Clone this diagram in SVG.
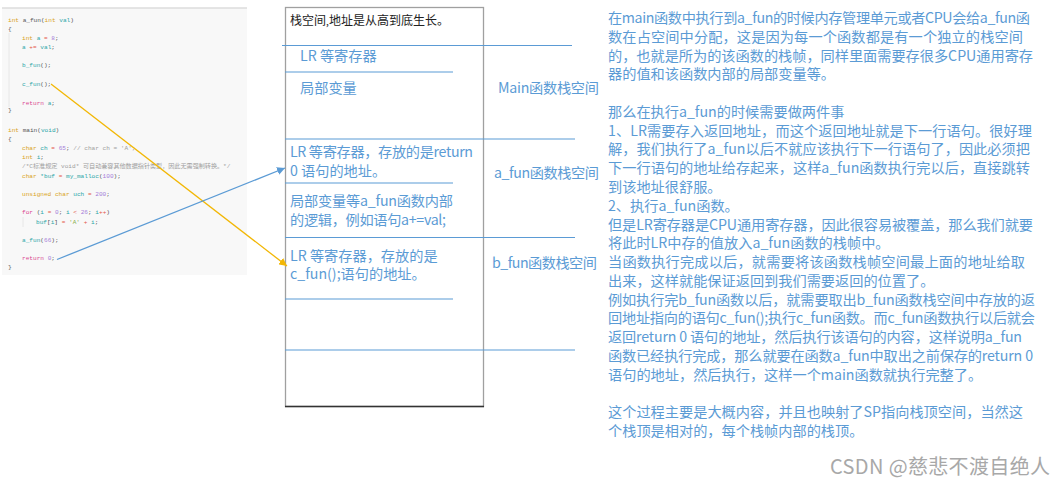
<svg xmlns="http://www.w3.org/2000/svg" width="1056" height="486" viewBox="0 0 1056 486">
<defs>
<style>
.code{font-family:"Liberation Mono","Noto Sans CJK SC",monospace;font-size:6.1px;fill:#555}
.k{fill:#d9a320}.t{fill:#2aa6a8}.n{fill:#a57ed8}.o{fill:#e45649}.r{fill:#d9468f}.c{fill:#a0a0a0}.s{fill:#8bb04a}
.lbl{font-family:"Noto Sans CJK SC","Noto Sans",sans-serif;font-size:14.2px;fill:#5b9bd5}
.note{font-family:"Noto Sans CJK SC","Noto Sans",sans-serif;font-size:14.2px;fill:#5b9bd5}
.sep{stroke:#5b9bd5;stroke-width:1.2}
</style>
<marker id="ahY" markerUnits="userSpaceOnUse" markerWidth="9" markerHeight="8" refX="8" refY="4" orient="auto"><path d="M0,0 L8,4 L0,8 z" fill="#f2b705"/></marker>
<marker id="ahB" markerUnits="userSpaceOnUse" markerWidth="9" markerHeight="8" refX="8" refY="4" orient="auto"><path d="M0,0 L8,4 L0,8 z" fill="#5b9bd5"/></marker>
</defs>
<rect width="1056" height="486" fill="#ffffff"/>

<g id="code-panel">
<rect x="2" y="8" width="245" height="267" fill="#f8f8f8"/>
<line x1="2" y1="8" x2="247" y2="8" stroke="#dcdcdc" stroke-width="1.5"/>
<line x1="9" y1="33" x2="9" y2="107" stroke="#e2e2e2" stroke-width="0.8"/>
<line x1="23" y1="217" x2="23" y2="227" stroke="#e2e2e2" stroke-width="0.8"/>
<text class="code" x="8" y="21.5"><tspan class="k">int</tspan> a_fun(<tspan class="k">int</tspan> <tspan class="t">val</tspan>)</text>
<text class="code" x="8" y="31">{</text>
<text class="code" x="22" y="40"><tspan class="k">int</tspan> <tspan class="t">a</tspan> <tspan class="o">=</tspan> <tspan class="n">8</tspan>;</text>
<text class="code" x="22" y="49"><tspan class="t">a</tspan> <tspan class="o">+=</tspan> <tspan class="t">val</tspan>;</text>
<text class="code" x="22" y="67"><tspan class="t">b_fun</tspan>();</text>
<text class="code" x="22" y="86"><tspan class="t">c_fun</tspan>();</text>
<text class="code" x="22" y="105"><tspan class="r">return</tspan> <tspan class="t">a</tspan>;</text>
<text class="code" x="8" y="112">}</text>
<text class="code" x="8" y="132"><tspan class="k">int</tspan> main(<tspan class="t">void</tspan>)</text>
<text class="code" x="8" y="141">{</text>
<text class="code" x="22" y="150"><tspan class="k">char</tspan> <tspan class="t">ch</tspan> <tspan class="o">=</tspan> <tspan class="n">65</tspan>; <tspan class="c">// char ch = 'A';</tspan></text>
<text class="code" x="22" y="159"><tspan class="k">int</tspan> <tspan class="t">i</tspan>;</text>
<text class="code" x="22" y="168"><tspan class="c">/*C标准规定 void* 可自动兼容其他数据指针类型，因此无需强制转换。*/</tspan></text>
<text class="code" x="22" y="178"><tspan class="k">char</tspan> <tspan class="t">*buf</tspan> <tspan class="o">=</tspan> <tspan class="t">my_malloc</tspan>(<tspan class="n">100</tspan>);</text>
<text class="code" x="22" y="196"><tspan class="k">unsigned char</tspan> <tspan class="t">uch</tspan> <tspan class="o">=</tspan> <tspan class="n">200</tspan>;</text>
<text class="code" x="22" y="214"><tspan class="r">for</tspan> (<tspan class="t">i</tspan> <tspan class="o">=</tspan> <tspan class="n">0</tspan>; <tspan class="t">i</tspan> <tspan class="o">&lt;</tspan> <tspan class="n">26</tspan>; <tspan class="t">i</tspan><tspan class="o">++</tspan>)</text>
<text class="code" x="36" y="224"><tspan class="t">buf</tspan>[<tspan class="t">i</tspan>] <tspan class="o">=</tspan> <tspan class="s">'A'</tspan> <tspan class="o">+</tspan> <tspan class="t">i</tspan>;</text>
<text class="code" x="22" y="242"><tspan class="t">a_fun</tspan>(<tspan class="n">66</tspan>);</text>
<text class="code" x="22" y="260"><tspan class="r">return</tspan> <tspan class="n">0</tspan>;</text>
<text class="code" x="8" y="269">}</text>
</g>

<g id="stack-box">
<rect x="285.5" y="7.5" width="198" height="399" fill="#ffffff" stroke="#a0a0a0" stroke-width="1.3"/>
<line x1="285" y1="406.5" x2="484" y2="406.5" stroke="#333333" stroke-width="1.3"/>
<text x="290" y="25" font-family="'Liberation Serif','Noto Sans CJK SC',serif" font-size="12" fill="#222">栈空间,地址是从高到底生长。</text>
<line class="sep" x1="282" y1="45.5" x2="572" y2="45.5"/>
<line class="sep" x1="285" y1="72" x2="453" y2="72"/>
<line class="sep" x1="285" y1="139" x2="575" y2="139"/>
<line class="sep" x1="285" y1="183" x2="453" y2="183"/>
<line class="sep" x1="285" y1="237.5" x2="575" y2="237.5"/>
<line class="sep" x1="285" y1="299" x2="453" y2="299"/>
<line class="sep" x1="285" y1="350" x2="575" y2="350"/>
</g>

<g id="main-frame">
<text class="lbl" x="300" y="60.5">LR 等寄存器</text>
<text class="lbl" x="300" y="92.5">局部变量</text>
<text class="lbl" x="498" y="92.5" textLength="101">Main函数栈空间</text>
</g>

<g id="a-fun-frame">
<text class="lbl" x="290" y="156.5" textLength="183">LR 等寄存器，存放的是return</text>
<text class="lbl" x="290" y="175.5">0 语句的地址。</text>
<text class="lbl" x="290" y="206" textLength="163">局部变量等a_fun函数内部</text>
<text class="lbl" x="290" y="224.5" textLength="156">的逻辑，例如语句a+=val;</text>
<text class="lbl" x="494" y="178" textLength="105">a_fun函数栈空间</text>
</g>

<g id="b-fun-frame">
<text class="lbl" x="290" y="260.5">LR 等寄存器，存放的是</text>
<text class="lbl" x="290" y="279">c_fun();语句的地址。</text>
<text class="lbl" x="492" y="267.5" textLength="105">b_fun函数栈空间</text>
</g>

<g id="notes">
<text class="note" x="608" y="23" textLength="422">在main函数中执行到a_fun的时候内存管理单元或者CPU会给a_fun函</text>
<text class="note" x="608" y="41.8" textLength="415">数在占空间中分配，这是因为每一个函数都是有一个独立的栈空间</text>
<text class="note" x="608" y="60.5" textLength="425">的，也就是所为的该函数的栈帧，同样里面需要存很多CPU通用寄存</text>
<text class="note" x="608" y="79.3">器的值和该函数内部的局部变量等。</text>
<text class="note" x="608" y="116.9">那么在执行a_fun的时候需要做两件事</text>
<text class="note" x="608" y="135.6" textLength="424">1、LR需要存入返回地址，而这个返回地址就是下一行语句。很好理</text>
<text class="note" x="608" y="154.4" textLength="422">解，我们执行了a_fun以后不就应该执行下一行语句了，因此必须把</text>
<text class="note" x="608" y="173.2" textLength="422">下一行语句的地址给存起来，这样a_fun函数执行完以后，直接跳转</text>
<text class="note" x="608" y="191.9">到该地址很舒服。</text>
<text class="note" x="608" y="210.7">2、执行a_fun函数。</text>
<text class="note" x="608" y="229.5" textLength="425">但是LR寄存器是CPU通用寄存器，因此很容易被覆盖，那么我们就要</text>
<text class="note" x="608" y="248.2">将此时LR中存的值放入a_fun函数的栈帧中。</text>
<text class="note" x="608" y="267" textLength="417">当函数执行完成以后，就需要将该函数栈帧空间最上面的地址给取</text>
<text class="note" x="608" y="285.8">出来，这样就能保证返回到我们需要返回的位置了。</text>
<text class="note" x="608" y="304.6" textLength="427">例如执行完b_fun函数以后，就需要取出b_fun函数栈空间中存放的返</text>
<text class="note" x="608" y="323.3" textLength="427">回地址指向的语句c_fun();执行c_fun函数。而c_fun函数执行以后就会</text>
<text class="note" x="608" y="342.1" textLength="414">返回return 0 语句的地址，然后执行该语句的内容，这样说明a_fun</text>
<text class="note" x="608" y="360.9" textLength="425">函数已经执行完成，那么就要在函数a_fun中取出之前保存的return 0</text>
<text class="note" x="608" y="379.6">语句的地址，然后执行，这样一个main函数就执行完整了。</text>
<text class="note" x="608" y="417.2" textLength="415">这个过程主要是大概内容，并且也映射了SP指向栈顶空间，当然这</text>
<text class="note" x="608" y="435.9">个栈顶是相对的，每个栈帧内部的栈顶。</text>
</g>

<g id="connectors">
<line x1="51" y1="84" x2="287" y2="266" stroke="#f2b705" stroke-width="1.3" marker-end="url(#ahY)"/>
<line x1="57" y1="259.5" x2="285" y2="168" stroke="#5b9bd5" stroke-width="1.3" marker-end="url(#ahB)"/>
</g>

<g id="watermark">
<text x="830" y="474" font-family="'Noto Sans CJK SC','Noto Sans',sans-serif" font-size="20" fill="#a8a8a8" textLength="220">CSDN @慈悲不渡自绝人</text>
</g>
</svg>
